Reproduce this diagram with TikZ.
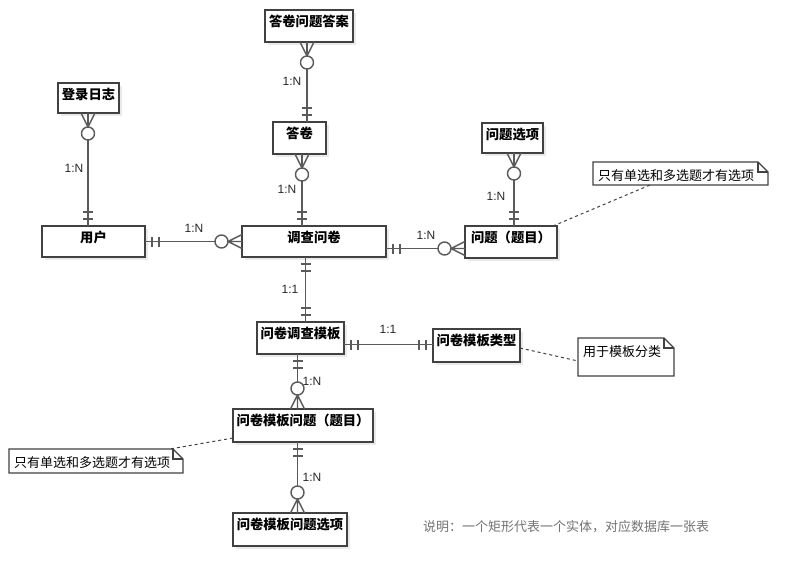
\documentclass[tikz,border=0pt]{standalone}
\usepackage{fontspec}
\newfontfamily\cjk{Noto Sans CJK SC}
\newfontfamily\lat{Liberation Sans}
\usetikzlibrary{calc}
\definecolor{lc}{RGB}{90,90,90}
\definecolor{bc}{RGB}{65,65,65}
\definecolor{sh}{RGB}{234,234,234}
\definecolor{capc}{RGB}{115,115,115}
\definecolor{cardc}{RGB}{40,40,40}
\tikzset{
  conn/.style={draw=lc,line width=1.4pt},
  entbox/.style={draw=bc,line width=1.5pt,fill=white,rectangle,inner sep=0pt,outer sep=0pt},
  enttext/.style={font=\cjk\bfseries\fontsize{13.3}{15}\selectfont,text=black,inner sep=0pt},
  notel/.style={draw=bc,line width=1.3pt,fill=white},
  notetext/.style={font=\cjk\fontsize{13}{15}\selectfont,text=black,inner sep=0pt},
  card/.style={font=\lat\fontsize{12}{14}\selectfont,text=cardc,inner sep=0pt},
  dashl/.style={draw=bc,line width=1pt,dash pattern=on 3pt off 3pt},
  manyopt/.pic={\draw[conn] (0,0) -- (14,0) (0,-7) -- (14,0) -- (0,7);
                \draw[conn,fill=white] (20.5,0) circle[radius=6.5];},
  onemark/.pic={\draw[conn] (7,-5) -- (7,5) (14,-5) -- (14,5);}
}
\newcommand\mkent[6]{%
  \fill[sh] ({#2+3},{#3+3}) rectangle ({#4+3},{#5+3});
  \node[entbox,minimum width={#4-#2},minimum height={#5-#3}] (#1) at ({(#2+#4)/2},{(#3+#5)/2}) {};
  \node[enttext] (#1t) at ({(#2+#4)/2},{#3+11.5}) {#6};
}
\newcommand\mknote[6]{%
  \node[minimum width={#4-#2},minimum height={#5-#3},inner sep=0pt,outer sep=0pt] (#1) at ({(#2+#4)/2},{(#3+#5)/2}) {};
  \draw[notel] (#1.north west) -- ([xshift=-10pt]#1.north east) -- ([yshift=-10pt]#1.north east) -- (#1.south east) -- (#1.south west) -- cycle;
  \draw[notel,fill=none] ([xshift=-10pt]#1.north east) -- ([xshift=-10pt,yshift=-10pt]#1.north east) -- ([yshift=-10pt]#1.north east);
  \node[notetext,anchor=west] (#1t) at ({#2+5},{#3+13.5}) {#6};
}
\begin{document}
\begin{tikzpicture}[x=1pt,y=-1pt]
\useasboundingbox[fill=white] (0,0) rectangle (809,586);
% entities
\mkent{ans}{265}{10}{353}{42}{答卷问题答案}
\mkent{log}{58}{83}{119}{113}{登录日志}
\mkent{sheet}{273}{122}{326}{154}{答卷}
\mkent{user}{42}{226}{145}{257}{用户}
\mkent{survey}{242}{226}{386}{257}{调查问卷}
\mkent{opt}{482}{123}{543}{153}{问题选项}
\mkent{q}{465}{226}{557}{258}{问题（题目）}
\mkent{tpl}{257}{322}{344}{354}{问卷调查模板}
\mkent{ttype}{433}{329}{520}{362}{问卷模板类型}
\mkent{tq}{233}{409}{373}{442}{问卷模板问题（题目）}
\mkent{topt}{233}{513}{347}{546}{问卷模板问题选项}
% notes
\mknote{n1}{593}{162}{768}{185}{只有单选和多选题才有选项}
\mknote{n2}{578}{338}{674}{376}{用于模板分类}
\mknote{n3}{9}{449}{183}{473}{只有单选和多选题才有选项}
% connectors
\draw[conn] ([xshift=-0.5pt]log.south) -- ([xshift=-5.5pt]user.north);
\draw[conn] ([xshift=-2pt]ans.south) -- ([xshift=7.5pt]sheet.north);
\draw[conn] ([xshift=2.5pt]sheet.south) -- ([xshift=-12pt]survey.north);
\draw[conn] (user.east) -- (survey.west);
\draw[conn] ([yshift=-7pt]survey.east) -- ([yshift=-6.5pt]q.west);
\draw[conn] ([xshift=1.5pt]opt.south) -- ([xshift=3pt]q.north);
\draw[conn] ([xshift=-8.5pt]survey.south) -- ([xshift=5pt]tpl.north);
\draw[conn] ([yshift=-6.5pt]tpl.east) -- ([yshift=1pt]ttype.west);
\draw[conn] ([xshift=-3pt]tpl.south) -- ([xshift=-5.5pt]tq.north);
\draw[conn] ([xshift=-5.5pt]tq.south) -- ([xshift=7.5pt]topt.north);
% ends
\path ([xshift=-0.5pt]log.south) pic[rotate=-90]{manyopt};
\path ([xshift=-5.5pt]user.north) pic[rotate=90]{onemark};
\path ([xshift=-2pt]ans.south) pic[rotate=-90]{manyopt};
\path ([xshift=7.5pt]sheet.north) pic[rotate=90]{onemark};
\path ([xshift=2.5pt]sheet.south) pic[rotate=-90]{manyopt};
\path ([xshift=-12pt]survey.north) pic[rotate=90]{onemark};
\path (user.east) pic{onemark};
\path (survey.west) pic[rotate=180]{manyopt};
\path ([yshift=-7pt]survey.east) pic{onemark};
\path ([yshift=-6.5pt]q.west) pic[rotate=180]{manyopt};
\path ([xshift=1.5pt]opt.south) pic[rotate=-90]{manyopt};
\path ([xshift=3pt]q.north) pic[rotate=90]{onemark};
\path ([xshift=-8.5pt]survey.south) pic[rotate=-90]{onemark};
\path ([xshift=5pt]tpl.north) pic[rotate=90]{onemark};
\path ([yshift=-6.5pt]tpl.east) pic{onemark};
\path ([yshift=1pt]ttype.west) pic[rotate=180]{onemark};
\path ([xshift=-3pt]tpl.south) pic[rotate=-90]{onemark};
\path ([xshift=-5.5pt]tq.north) pic[rotate=90]{manyopt};
\path ([xshift=-5.5pt]tq.south) pic[rotate=-90]{onemark};
\path ([xshift=7.5pt]topt.north) pic[rotate=90]{manyopt};
% dashed note links
\draw[dashl] ([xshift=-4pt]q.north east) -- ([xshift=-30.5pt]n1.south);
\draw[dashl] ([yshift=-2.5pt]ttype.east) -- ([yshift=-4pt]n2.west);
\draw[dashl] ([yshift=-12.5pt]tq.west) -- ([xshift=74pt]n3.north);
% cardinality labels
\node[card] (c1) at (74,168) {1:N};
\node[card] (c2) at (292,81) {1:N};
\node[card] (c3) at (287,189) {1:N};
\node[card] (c4) at (194,228) {1:N};
\node[card] (c5) at (426,235) {1:N};
\node[card] (c6) at (496,196) {1:N};
\node[card] (c7) at (290,289) {1:1};
\node[card] (c8) at (388,329) {1:1};
\node[card] (c9) at (312,381) {1:N};
\node[card] (c10) at (312,477) {1:N};
% caption
\node[font=\cjk\fontsize{13}{15}\selectfont,text=capc,anchor=west,inner sep=0pt] (cap) at (423,527) {说明：一个矩形代表一个实体，对应数据库一张表};
\end{tikzpicture}
\end{document}
